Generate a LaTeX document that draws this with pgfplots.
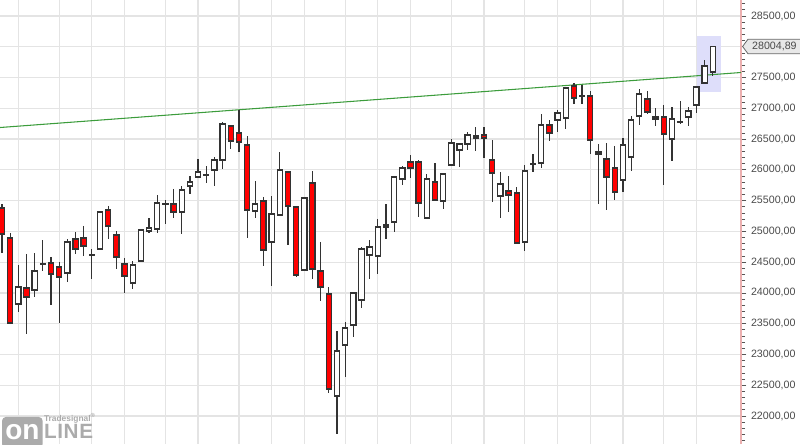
\documentclass[border=0pt]{standalone}
\usepackage{fontspec}
\setmainfont{Liberation Sans}
\usepackage{pgfplots}
\usepackage{pgfplotstable}
\pgfplotsset{compat=1.18}
\usepgfplotslibrary{statistics}

\definecolor{gridgray}{HTML}{E4E4E4}
\definecolor{axispink}{HTML}{EBB0B0}
\definecolor{tickgray}{HTML}{555555}
\definecolor{labelgray}{HTML}{4A4A4A}
\definecolor{candline}{HTML}{333333}
\definecolor{candred}{HTML}{FF0000}
\definecolor{trend}{HTML}{3C9C3C}
\definecolor{hlblue}{HTML}{DEDEFA}
\definecolor{logogray}{HTML}{ABABAB}

% rising candles (and dojis): index, open, high, low, close
\pgfplotstableread{
i o h l c
2 23820 24454 23690 24096
4 24048 24649 23934 24356
5 24465 24860 24356 24470
8 24324 24876 24178 24828
11 24614 24714 24226 24616
12 24714 25331 24698 25315
16 24161 24519 24064 24454
17 24519 25039 24510 25023
18 25006 25218 24974 25055
19 25039 25591 24974 25461
20 25443 25510 25120 25445
22 25315 25738 24958 25673
23 25738 25900 25608 25803
24 25884 26176 25880 25965
25 25914 26063 25786 25916
26 25998 26209 25738 26160
27 26160 26778 26014 26745
31 25331 25819 25218 25445
33 24828 25575 24113 25283
34 25266 26290 25260 25998
37 24373 25559 24365 25543
41 22325 23381 21708 23056
42 23154 23528 22634 23430
43 23479 24015 23284 23999
44 23885 24746 23755 24714
45 24616 24860 24226 24746
46 24600 25201 24308 25071
47 25071 25445 24876 25104
48 25153 25890 24990 25884
49 25851 26063 25754 26030
52 25218 25933 25210 25851
54 25494 25949 25364 25933
55 26079 26501 26072 26436
56 26323 26436 26046 26420
57 26420 26615 26323 26566
58 26518 26696 26306 26550
61 25575 25965 25218 25770
64 24828 26079 24681 25981
65 26093 26258 25965 26095
66 26111 26908 26030 26729
68 26810 26973 26615 26924
69 26843 27346 26664 27330
71 27198 27379 27070 27200
73 26258 26420 25445 26290
76 25835 26518 25640 26404
77 26209 26875 25981 26810
78 26875 27314 26729 27233
82 26501 27021 26144 26826
83 26775 27119 26745 26778
84 26859 27021 26713 26956
85 27054 27350 26924 27346
86 27411 27785 27395 27688
87 27590 28005 27525 28004.89
}\bull

% falling candles
\pgfplotstableread{
i o h l c
0 25380 25445 24649 24958
1 24893 24974 23495 23511
3 24080 24633 23333 23934
6 24486 24584 23804 24308
7 24421 24503 23511 24259
9 24876 24990 24633 24714
10 24893 25088 24600 24763
13 25348 25413 24876 25088
14 24941 25006 24389 24584
15 24470 24568 23999 24275
21 25445 25689 25218 25315
28 26713 26720 26339 26469
29 26599 26973 26290 26453
30 26404 26550 24893 25348
32 25494 25559 24438 24698
35 25965 25970 24779 25413
36 25396 25400 24259 24291
38 25786 25981 24226 24389
39 24356 24828 23869 24096
40 23983 24096 22374 22439
50 26128 26241 25868 26030
51 26128 26160 25234 25461
53 25803 26111 25505 25510
59 26566 26696 26193 26518
60 26160 26485 25478 25949
62 25656 25900 25315 25591
63 25624 25721 24805 24811
67 26729 26810 26469 26599
70 27363 27411 27070 27168
72 27200 27281 26258 26485
74 26176 26436 25348 25884
75 26030 26388 25510 25640
79 27151 27281 26908 26940
80 26859 27005 26713 26826
81 26859 27054 25754 26583
}\bear

\pgfplotstablegetrowsof{\bull}\pgfmathtruncatemacro\nbull{\pgfplotsretval-1}
\pgfplotstablegetrowsof{\bear}\pgfmathtruncatemacro\nbear{\pgfplotsretval-1}

% read one row of a table into \ci \co \ch \cl \cc
\newcommand\getcandle[2]{%
  \pgfplotstablegetelem{#1}{i}\of#2\edef\ci{\pgfplotsretval}%
  \pgfplotstablegetelem{#1}{o}\of#2\edef\co{\pgfplotsretval}%
  \pgfplotstablegetelem{#1}{h}\of#2\edef\ch{\pgfplotsretval}%
  \pgfplotstablegetelem{#1}{l}\of#2\edef\cl{\pgfplotsretval}%
  \pgfplotstablegetelem{#1}{c}\of#2\edef\cc{\pgfplotsretval}%
}

\begin{document}
\begin{tikzpicture}
\path[use as bounding box] (0,0) rectangle (600pt,333pt);
\begin{axis}[
  at={(0,0)}, anchor=south west,
  scale only axis, width=555.75pt, height=333pt,
  xmin=-0.245, xmax=90.45, ymin=21545, ymax=28760,
  axis y line*=right, axis x line*=bottom,
  x axis line style={draw=none},
  y axis line style={draw=axispink, line width=0.8pt},
  xtick={2,7,11,15,20,24,29,33,37,42,46,50,55,59,64,68,72,76,81,85},
  xticklabels={}, xtick style={draw=none},
  ytick distance=500, minor y tick num=4,
  tick align=outside,
  ytick style={draw=tickgray, line width=0.6pt},
  major tick length=4pt, minor tick length=3pt,
  xmajorgrids, ymajorgrids,
  major grid style={draw=gridgray, line width=0.9pt},
  scaled y ticks=false,
  yticklabel style={font=\fontsize{8}{9}\selectfont, text=labelgray,
    /pgf/number format/fixed, /pgf/number format/fixed zerofill,
    /pgf/number format/precision=2, /pgf/number format/use comma,
    /pgf/number format/1000 sep={}, /pgf/number format/assume math mode=true},
  boxplot/draw direction=y,
  candle/.style={draw=candline, line width=0.9pt, solid, mark=none,
    boxplot/box extend=0.64, boxplot/whisker extend=0},
]
% highlight of the last two sessions
\addplot[fill=hlblue, draw=none] coordinates
  {(85.07,27265) (88.0,27265) (88.0,28175) (85.07,28175)} -- cycle;
% trend line
\addplot[trend, line width=0.8pt] coordinates {(-0.245,26688) (90.45,27582)};

\pgfplotsinvokeforeach{0,...,\nbull}{
  \getcandle{#1}{\bull}
  \edef\doplot{\noexpand\addplot[candle, fill=white,
    boxplot prepared={draw position=\ci,
      lower whisker=\cl, upper whisker=\ch,
      lower quartile=\co, upper quartile=\cc, median=\co}] coordinates {};}
  \doplot
}
\pgfplotsinvokeforeach{0,...,\nbear}{
  \getcandle{#1}{\bear}
  \edef\doplot{\noexpand\addplot[candle, fill=candred,
    boxplot prepared={draw position=\ci,
      lower whisker=\cl, upper whisker=\ch,
      lower quartile=\cc, upper quartile=\co, median=\cc}] coordinates {};}
  \doplot
}
\coordinate (P) at (axis cs:90.45,28004.89);
\end{axis}

% last price tag
\draw[fill=black!9, draw=black!60, line width=0.6pt]
  ([xshift=1.2pt]P) -- ++(4pt,5.4pt) -- ++(42pt,0) -- ++(0,-10.8pt) -- ++(-42pt,0) -- cycle;
\node[anchor=west, inner sep=0pt, text=labelgray, font=\fontsize{8}{9}\selectfont]
  at ([xshift=8.2pt]P) {28004,89};

% watermark
\fill[logogray, rounded corners=3pt] (1.5pt,-3pt) rectangle (32pt,20.3pt);
\node[text=white, font=\bfseries\fontsize{21}{21}\selectfont, inner sep=0pt, anchor=base]
  at (16.8pt,3.6pt) {on};
\node[anchor=base west, text=logogray, font=\bfseries\fontsize{15.5}{16}\selectfont, inner sep=0pt]
  at (32.8pt,3.8pt) {L\kern0.5ptI\kern0.5ptN\kern0.5ptE};
\node[anchor=base west, text=logogray, font=\bfseries\fontsize{6.3}{7}\selectfont, inner sep=0pt]
  at (32.8pt,17pt) {Tradesignal\textsuperscript{®}};
\end{tikzpicture}
\end{document}
